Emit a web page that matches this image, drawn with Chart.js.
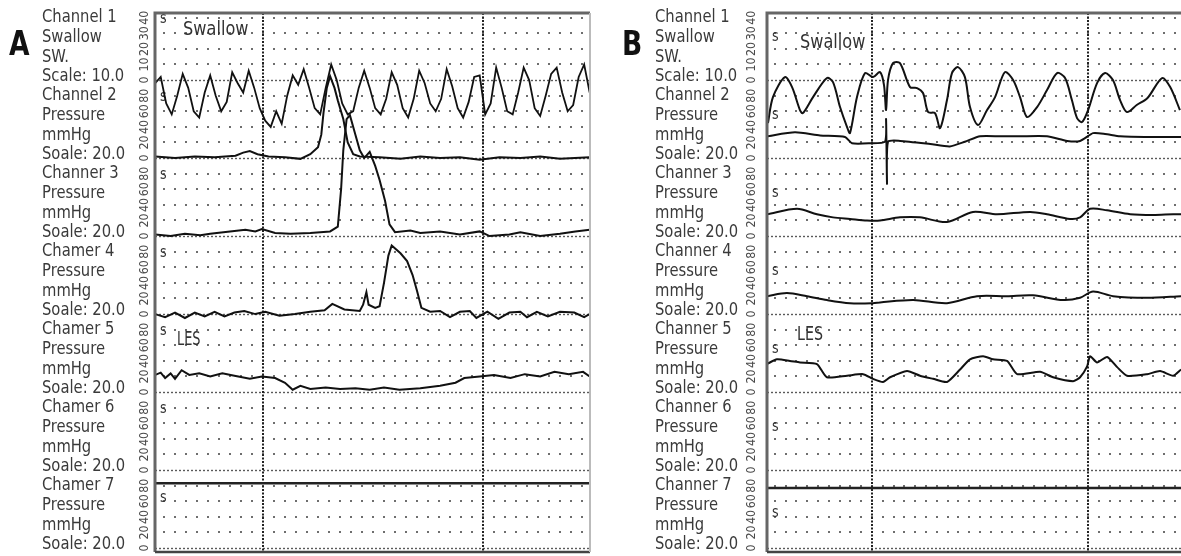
<!DOCTYPE html>
<html>
<head>
<meta charset="utf-8">
<script src="https://cdn.jsdelivr.net/npm/chart.js@4.4.1/dist/chart.umd.min.js"></script>
<style>
body { margin: 0; background: #fff; width: 1181px; height: 556px; overflow: hidden; position: relative; }
.panel { position: absolute; top: 0; height: 556px; }
#panelA { left: 0; width: 595px; }
#panelB { left: 595px; width: 586px; }
</style>
</head>
<body>
<div class="panel" id="panelA"><canvas id="chartA"></canvas></div>
<div class="panel" id="panelB"><canvas id="chartB"></canvas></div>
<script>
// tick labels of each stripe
var swallowTicks = [0, 10, 20, 30, 40]
var pressureTicks = [0, 20, 40, 60, 80]
var majorTimes = [10, 30]

var labelsA = [
	['Channel 1', 'Swallow', 'SW.', 'Scale: 10.0'],
	['Channel 2', 'Pressure', 'mmHg', 'Soale: 20.0'],
	['Channer 3', 'Pressure', 'mmHg', 'Soale: 20.0'],
	['Chamer 4', 'Pressure', 'mmHg', 'Soale: 20.0'],
	['Chamer 5', 'Pressure', 'mmHg', 'Soale: 20.0'],
	['Chamer 6', 'Pressure', 'mmHg', 'Soale: 20.0'],
	['Chamer 7', 'Pressure', 'mmHg', 'Soale: 20.0']
]
var labelsB = [
	['Channel 1', 'Swallow', 'SW.', 'Scale: 10.0'],
	['Channel 2', 'Pressure', 'mmHg', 'Soale: 20.0'],
	['Channer 3', 'Pressure', 'mmHg', 'Soale: 20.0'],
	['Channer 4', 'Pressure', 'mmHg', 'Soale: 20.0'],
	['Channer 5', 'Pressure', 'mmHg', 'Soale: 20.0'],
	['Channer 6', 'Pressure', 'mmHg', 'Soale: 20.0'],
	['Channer 7', 'Pressure', 'mmHg', 'Soale: 20.0']
]

// ---- panel A ----
var aSwallow = [-2, 2, -15, -22, -10, 4, -5, -20, -24, -8,
	3, -10, -20, -14, 5, -2, -8, 6, -5, -18,
	-26, -30, -20, -28, -10, 3, -3, 7, -5, -18,
	-22, -5, 10, 0, -15, -22, -20, -5, 6, -5,
	-18, -22, -12, 5, -3, -18, -24, -12, 6, -2,
	-15, -20, -12, 7, -4, -18, -24, -14, 2, 3,
	-22, -15, 8, -5, -20, -22, -8, 8, 0, -18,
	-23, -10, 4, 8, -8, -20, -16, 2, 10, -8]
var aSwallowT = aSwallow.map((v, i) => 0.2 + i * 0.5)

var aCh2T = [0.2, 2, 3.8, 5.6, 7.5, 8.2, 8.8, 9.5, 10.5, 12, 13.4, 14.3, 15, 15.3, 15.5, 15.8, 16.1, 16.5, 16.8, 17.3, 17.7, 18.2, 18.8, 20.6, 22.5, 24.3, 26.1, 27.9, 29.7, 31.5, 33.4, 35.2, 37, 39.7]
var aCh2 = [2, 0, 2, 1, 3, 7, 9, 5, 2, 1, -1, 5, 14, 30, 58, 90, 105, 90, 74, 50, 20, 5, 2, 1, -1, 2, 0, 1, -2, 1, 0, 2, -1, 1]

var aCh3T = [0.2, 1.6, 2.9, 4.3, 5.2, 7, 8.4, 9.3, 9.9, 11.1, 12.5, 14.3, 16.1, 16.8, 17.1, 17.3, 17.6, 17.9, 18.4, 18.8, 19.2, 19.7, 20.2, 20.6, 21.1, 21.5, 22, 23.4, 24.3, 26.1, 27.9, 29.7, 30.6, 32.4, 33.4, 35.2, 37, 38.4, 39.7]
var aCh3 = [2, 0, 3, 1, 3, 6, 8, 6, 9, 4, 3, 4, 6, 12, 60, 110, 150, 155, 130, 110, 100, 108, 90, 72, 45, 15, 5, 7, 4, 6, 2, 6, 0, 2, 5, 0, 3, 6, 8]

var aCh4T = [0.2, 1.1, 2, 2.9, 3.8, 4.7, 5.6, 6.5, 7.4, 8.3, 9.3, 10.2, 11.5, 12.9, 14.3, 15.6, 16.3, 17.4, 18.8, 19.1, 19.4, 19.6, 20.2, 20.6, 21, 21.4, 21.7, 22.5, 23.1, 23.6, 24, 24.4, 25.2, 26.1, 27, 27.9, 28.8, 29.4, 30.4, 31.4, 32.4, 33.4, 34, 34.9, 35.9, 37, 38.3, 39.2, 39.7]
var aCh4 = [0, -4, 2, -5, 2, -3, 3, -3, 2, 4, 0, 3, -2, 0, 3, 5, 13, 6, 4, 12, 28, 12, 8, 10, 40, 75, 88, 78, 68, 50, 30, 8, 3, 4, -4, 3, 4, -5, 3, -6, 2, 3, -4, 3, -3, 3, 2, -4, 0]

var aCh5T = [0.2, 0.7, 1.1, 1.6, 2, 2.6, 3.3, 4.2, 5.2, 6.3, 7.4, 8.8, 9.9, 11.1, 12, 12.7, 13.4, 14.3, 15.7, 17, 18.4, 19.7, 21, 22.4, 24.3, 26.1, 27.5, 28.3, 29.7, 31, 32.5, 33.8, 35.2, 36.5, 37.8, 39.1, 39.7]
var aCh5 = [22, 25, 18, 24, 17, 28, 22, 24, 20, 24, 21, 17, 20, 18, 12, 3, 8, 4, 6, 4, 5, 3, 6, 3, 5, 8, 12, 18, 20, 22, 18, 23, 20, 26, 23, 26, 20]

var aCh7T = [0.2, 39.7]
var aCh7 = [83, 83]

// ---- panel B ----
var bSwallowT = [0.37, 0.83, 1.94, 2.6, 3.33, 3.6, 4.54, 5.83, 6.39, 7.04,
	7.69, 7.96, 8.61, 9.35, 10.09, 10.74, 11.11, 11.3, 11.48, 11.94,
	12.59, 13.52, 14.17, 14.72, 15.19, 15.83, 16.3, 16.94, 17.4, 17.96,
	18.6, 19.07, 19.81, 20.65, 21.39, 22.3, 23.06, 23.7, 24.35, 25.28,
	26.2, 27.13, 27.87, 28.5, 28.98, 29.44, 30, 30.83, 31.57, 32.3,
	32.96, 33.6, 34.5, 35.5, 36.85, 37.6, 38.5]
var bSwallow = [-27.6, -10.9, 1.9, -4.5, -19.2, -21.2, -10.9, 1.3, -1.3, -17.3,
	-30.1, -34, -10.9, 4.5, 1.9, 5.1, -3.2, -19.2, 0, 10.9,
	10.9, -4.5, -5.1, -8.3, -20.5, -21.2, -30.8, -12.8, 4.5, 8.3,
	1.9, -17.3, -28.8, -19.2, -10.9, 5.1, 0, -10.9, -23.7, -17.3,
	-6.4, 4.5, 1.3, -12.8, -24.4, -26.9, -19.2, -1.9, 4.5, 0,
	-12.8, -20.5, -16, -11.5, 1.3, -4.5, -19.2]

var bCh2T = [0.28, 2.87, 5.19, 7.5, 8.15, 9.8, 11.2, 11.3, 11.39, 11.48, 12.6, 15.4, 17.2, 18.6, 20, 21.85, 23.7, 26.2, 28.06, 29.26, 30.46, 31.57, 32.96, 35.74, 38.6]
var bCh2 = [28, 33, 29, 27, 19, 19, 21, 50, -33, 21, 22, 18, 15, 21, 28, 28, 28, 28, 22, 22, 32, 31, 28, 27, 27]

var bCh3T = [0.28, 3.06, 4.9, 6.39, 7.96, 9.54, 10.74, 12.59, 14.44, 16.94, 19.35, 21.57, 24.63, 26.2, 28.33, 29.26, 30.19, 31.76, 33.89, 36.02, 37.87, 38.6]
var bCh3 = [28, 35, 28, 24, 22, 20, 20, 24, 24, 18, 31, 28, 31, 28, 22, 24, 35, 33, 28, 27, 28, 28]

var bCh4T = [0.28, 2.13, 3.98, 5.83, 7.96, 10.09, 10.74, 13.8, 16.94, 19.72, 22.5, 24.9, 27.69, 29.26, 30.46, 32.31, 35.46, 38.6]
var bCh4 = [23, 27, 23, 18, 14, 14, 15, 18, 14, 23, 23, 24, 18, 21, 29, 23, 21, 23]

var bCh5T = [0.28, 1.2, 2.4, 3.33, 4.9, 5.83, 7.69, 9.17, 10.09, 11.02, 11.67, 13.24, 14.44, 15.65, 16.94, 18.15, 19.07, 20.28, 21.2, 22.5, 23.43, 25.56, 26.76, 28.61, 29.26, 29.91, 30.19, 30.83, 31.76, 32.69, 33.6, 35.46, 36.67, 37.87, 38.6]
var bCh5 = [36, 42, 40, 38, 36, 19, 21, 23, 17, 13, 19, 27, 21, 17, 13, 29, 42, 46, 42, 40, 23, 26, 19, 14, 19, 33, 46, 38, 45, 32, 21, 23, 27, 21, 29]

var bCh7T = [0.28, 38.6]
var bCh7 = [77, 77]

var FONT = '"DejaVu Sans", "Liberation Sans", sans-serif'

// stripe k (1 = top channel) sits on base (7 - k) * 100
function trace (times, values, channel, opts) {
	var base = (7 - channel) * 100
	var factor = channel === 1 ? 2 : 1
	return Object.assign({
		data: times.map((t, i) => ({ x: t, y: base + values[i] * factor })),
		borderColor: '#111',
		borderWidth: 2,
		pointRadius: 0,
		tension: 0,
		fill: false
	}, opts || {})
}

// narrow text: the recorder font is a condensed one
function narrowText (ctx, txt, x, y, sx, rot) {
	ctx.save()
	ctx.translate(x, y)
	if (rot) ctx.rotate(rot)
	ctx.scale(sx, 1)
	ctx.fillText(txt, 0, 0)
	ctx.restore()
}

var paper = {
	id: 'paper',
	beforeDatasetsDraw (chart, args, o) {
		var ctx = chart.ctx
		var a = chart.chartArea
		var x = chart.scales.x
		var y = chart.scales.y
		ctx.save()
		ctx.beginPath()
		ctx.rect(a.left, a.top, a.right - a.left, a.bottom - a.top)
		ctx.clip()
		// dot grid
		ctx.fillStyle = '#6e6e6e'
		for (var s = 0; s < 7; s++) {
			for (var k = 1; k < 5; k++) {
				var py = Math.round(y.getPixelForValue(s * 100 + k * 20))
				for (var t = Math.ceil(x.min); t <= x.max; t++) {
					ctx.fillRect(Math.round(x.getPixelForValue(t)) - 1, py - 1, 2, 2)
				}
			}
		}
		// zero line of every stripe
		ctx.setLineDash([2, 2])
		ctx.lineWidth = 1.4
		ctx.strokeStyle = '#5a5a5a'
		for (s = 0; s < 7; s++) {
			var zy = Math.round(y.getPixelForValue(s * 100)) + 0.5
			ctx.beginPath()
			ctx.moveTo(a.left, zy)
			ctx.lineTo(a.right, zy)
			ctx.stroke()
		}
		// major time marks
		ctx.setLineDash([2, 1.5])
		ctx.lineWidth = 2
		ctx.strokeStyle = '#222'
		majorTimes.forEach(mt => {
			var px = Math.round(x.getPixelForValue(mt))
			ctx.beginPath()
			ctx.moveTo(px, a.top)
			ctx.lineTo(px, a.bottom)
			ctx.stroke()
		})
		ctx.setLineDash([])
		// stripe markers and notes
		ctx.fillStyle = '#333'
		ctx.font = '15px ' + FONT
		ctx.textBaseline = 'middle'
		ctx.textAlign = 'left'
		for (s = 0; s < 7; s++) {
			var off = s === 0 ? o.sLast : o.sLevel
			narrowText(ctx, 's', a.left + 5, y.getPixelForValue(s * 100 + off), 0.85)
		}
		ctx.font = '19px ' + FONT
		o.notes.forEach(n => {
			narrowText(ctx, n.text, x.getPixelForValue(n.t), y.getPixelForValue(n.y), n.sx)
		})
		ctx.restore()
	},
	afterDraw (chart, args, o) {
		var ctx = chart.ctx
		var a = chart.chartArea
		var y = chart.scales.y
		ctx.save()
		// frame
		ctx.strokeStyle = '#666'
		ctx.lineWidth = 3
		ctx.beginPath()
		ctx.moveTo(a.left, a.bottom)
		ctx.lineTo(a.left, a.top)
		ctx.lineTo(a.right, a.top)
		ctx.stroke()
		ctx.lineWidth = 2.5
		ctx.strokeStyle = '#444'
		ctx.beginPath()
		ctx.moveTo(a.left, a.bottom)
		ctx.lineTo(a.right, a.bottom)
		ctx.stroke()
		if (o.rightBorder) {
			ctx.strokeStyle = '#bbb'
			ctx.lineWidth = 2
			ctx.beginPath()
			ctx.moveTo(a.right, a.top)
			ctx.lineTo(a.right, a.bottom)
			ctx.stroke()
		}
		// rotated tick labels
		ctx.fillStyle = '#4a4a4a'
		ctx.font = '13px ' + FONT
		ctx.textAlign = 'center'
		ctx.textBaseline = 'middle'
		for (var s = 0; s < 7; s++) {
			var ticks = s === 6 ? swallowTicks : pressureTicks
			ticks.forEach((lab, i) => {
				var py = y.getPixelForValue(s * 100 + i * 20)
				narrowText(ctx, String(lab), a.left + o.tickX, py, 0.85, -Math.PI / 2)
			})
		}
		// channel captions
		ctx.fillStyle = '#3a3a3a'
		ctx.font = '18px ' + FONT
		ctx.textAlign = 'left'
		var offs = [-63, -43, -23, -4]
		o.labels.forEach((lines, k) => {
			var zp = y.getPixelForValue((6 - k) * 100)
			lines.forEach((txt, j) => {
				narrowText(ctx, txt, a.left + o.labelX, zp + offs[j], 0.82)
			})
		})
		// panel letter
		ctx.fillStyle = '#111'
		ctx.font = 'bold 34px ' + FONT
		ctx.textBaseline = 'alphabetic'
		narrowText(ctx, o.letter, a.left + o.letterX, 55, 0.78)
		ctx.restore()
	}
}

function makeChart (id, datasets, xMin, xMax, padLeft, padRight, opts) {
	return new Chart(document.getElementById(id), {
		type: 'line',
		data: { datasets: datasets },
		plugins: [paper],
		options: {
			responsive: true,
			maintainAspectRatio: false,
			animation: false,
			devicePixelRatio: 1,
			layout: { padding: { left: padLeft, right: padRight, top: 13, bottom: 4 } },
			scales: {
				x: { type: 'linear', min: xMin, max: xMax, display: false },
				y: { type: 'linear', min: -5, max: 686, display: false }
			},
			plugins: {
				legend: { display: false },
				tooltip: { enabled: false },
				paper: opts
			}
		}
	})
}

makeChart('chartA', [
	trace(aSwallowT, aSwallow, 1, { borderWidth: 1.8 }),
	trace(aCh2T, aCh2, 2),
	trace(aCh3T, aCh3, 3),
	trace(aCh4T, aCh4, 4),
	trace(aCh5T, aCh5, 5),
	trace(aCh7T, aCh7, 7, { borderWidth: 2.5, borderColor: '#222' })
], 0.18, 39.73, 155, 5, {
	letter: 'A', letterX: -146, labelX: -113, tickX: -10, rightBorder: true,
	sLevel: 78, sLast: 64,
	labels: labelsA,
	notes: [{ text: 'Swallow', t: 2.73, y: 664, sx: 0.85 }, { text: 'LES', t: 2.18, y: 267, sx: 0.68 }]
})

makeChart('chartB', [
	trace(bSwallowT, bSwallow, 1, { tension: 0.3 }),
	trace(bCh2T, bCh2, 2, { tension: 0.2 }),
	trace(bCh3T, bCh3, 3, { tension: 0.3 }),
	trace(bCh4T, bCh4, 4, { tension: 0.3 }),
	trace(bCh5T, bCh5, 5, { tension: 0.2 }),
	trace(bCh7T, bCh7, 7, { borderWidth: 2.5, borderColor: '#222' })
], 0.28, 38.6, 172, 0, {
	letter: 'B', letterX: -145, labelX: -112, tickX: -15, rightBorder: false,
	sLevel: 55, sLast: 45,
	labels: labelsB,
	notes: [{ text: 'Swallow', t: 3.33, y: 647, sx: 0.85 }, { text: 'LES', t: 3.06, y: 273, sx: 0.75 }]
})
</script>
</body>
</html>
